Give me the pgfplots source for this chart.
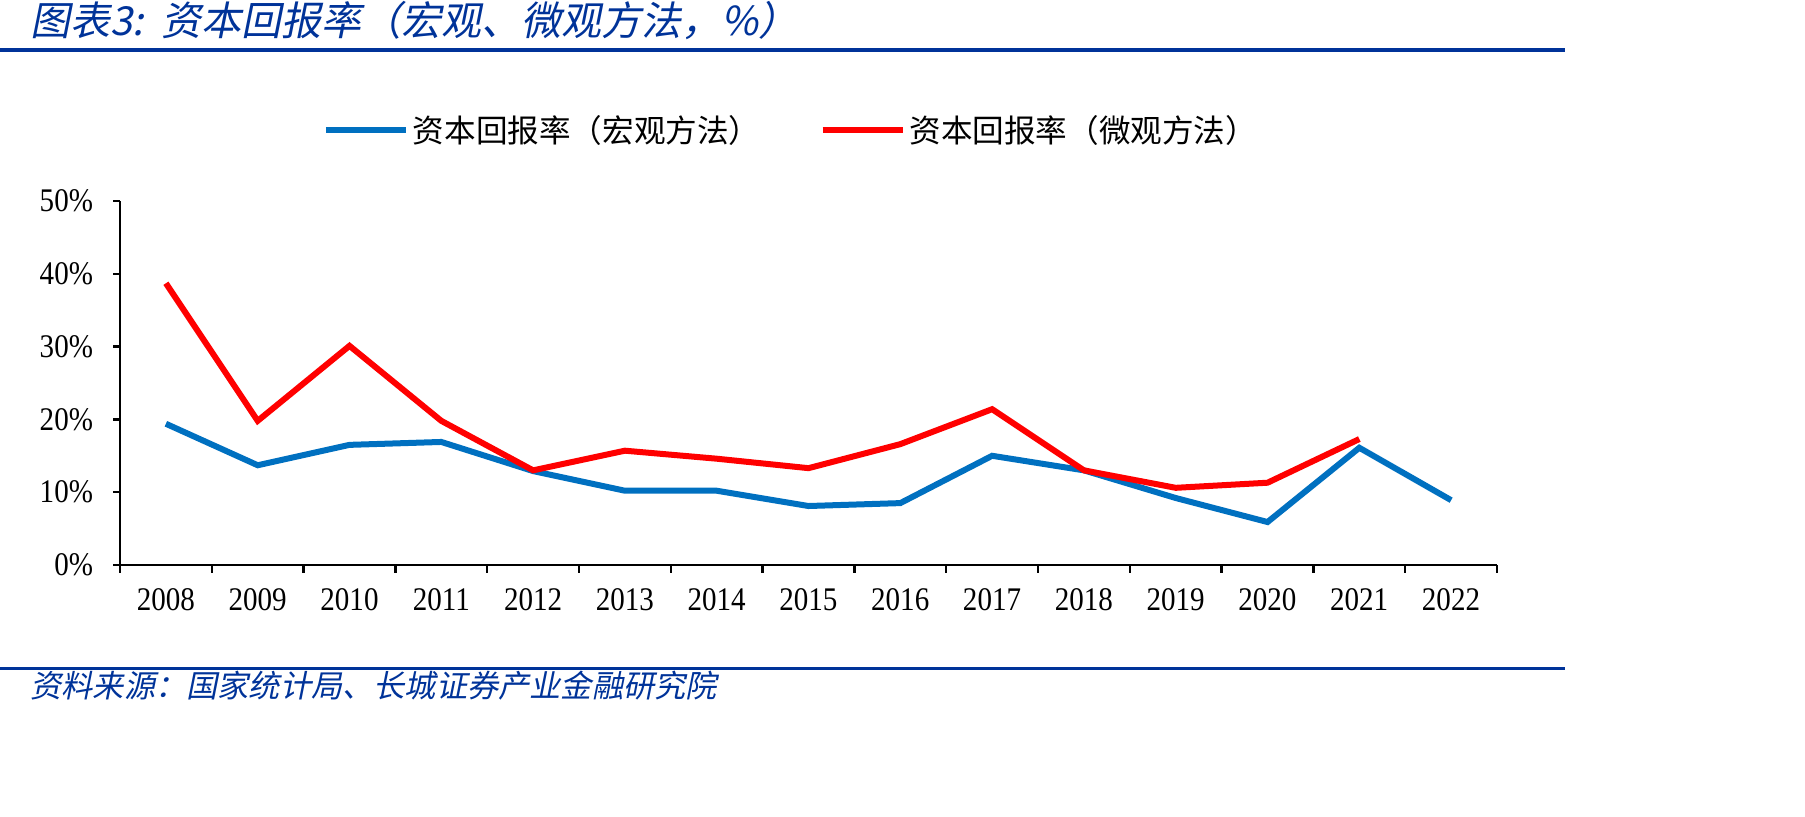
\documentclass[border=0pt]{standalone}
\usepackage{pgfplots}
\pgfplotsset{compat=1.18}
\usepackage{fontspec}
\setmainfont{Liberation Serif}
\newfontfamily\cjk{Noto Sans CJK SC}
\newfontfamily\cjkit[FakeSlant=0.2]{Noto Sans CJK SC}
\newfontfamily\tickfont[FakeStretch=0.88]{Liberation Serif}
\definecolor{hdrblue}{RGB}{0,51,153}
\definecolor{macro}{RGB}{0,112,192}
\definecolor{micro}{RGB}{255,0,0}

\begin{document}
\begin{tikzpicture}[x=0.5bp,y=0.5bp]
% header
\node[anchor=base west,inner sep=0pt,text=hdrblue,font=\fontsize{20bp}{24bp}\cjkit]
  at (30,781) {图表3:\ \ 资本回报率（宏观、微观方法，\%）};
\fill[hdrblue] (0,765) rectangle (1565,769);
% footer
\fill[hdrblue] (0,147) rectangle (1565,150);
\node[anchor=base west,inner sep=0pt,text=hdrblue,font=\fontsize{15.6bp}{18bp}\cjkit]
  at (30,119) {资料来源：国家统计局、长城证券产业金融研究院};

\begin{axis}[
    at={(60bp,126bp)}, anchor=south west,
    scale only axis,
    width=688.5bp, height=182bp,
    xmin=2007.5, xmax=2022.5,
    ymin=0, ymax=50,
    axis lines=left,
    axis line style={-, line width=1.2bp, black},
    xtick={2008,...,2022},
    minor xtick={2007.5,2008.5,...,2022.5},
    major x tick style={draw=none},
    minor tick length=4bp,
    ytick={0,10,...,50},
    major tick length=3.5bp,
    tick align=outside,
    tick style={black, line width=1.2bp},
    xticklabel style={yshift=-5bp},
    yticklabel style={xshift=-6.5bp},
    xticklabel={\pgfmathprintnumber[1000 sep={}]{\tick}},
    yticklabel={\pgfmathprintnumber{\tick}\%},
    /pgf/number format/assume math mode=true,
    ticklabel style={font=\fontsize{16.5bp}{18bp}\tickfont},
    legend columns=2,
    legend style={at={(0.488,1.195)}, anchor=center, draw=none, fill=none,
      font=\fontsize{15.8bp}{18bp}\cjk,
      /tikz/every even column/.append style={column sep=27.5bp}},
    legend image code/.code={\draw[#1] (0bp,0bp) -- (40bp,0bp);},
    clip=false,
]
\addplot[color=macro, line width=3bp] coordinates {
  (2008,19.4)(2009,13.7)(2010,16.5)(2011,16.9)(2012,12.9)(2013,10.2)
  (2014,10.2)(2015,8.1)(2016,8.5)(2017,15.0)(2018,13.0)(2019,9.2)
  (2020,5.9)(2021,16.1)(2022,8.9)
};
\addlegendentry{资本回报率（宏观方法）}
\addplot[color=micro, line width=3bp] coordinates {
  (2008,38.7)(2009,19.8)(2010,30.1)(2011,19.8)(2012,13.0)(2013,15.7)
  (2014,14.6)(2015,13.3)(2016,16.6)(2017,21.4)(2018,13.0)(2019,10.6)
  (2020,11.3)(2021,17.3)
};
\addlegendentry{资本回报率（微观方法）}
\end{axis}
\pgfresetboundingbox
\useasboundingbox (0,0) rectangle (1805,817);
\end{tikzpicture}
\end{document}
